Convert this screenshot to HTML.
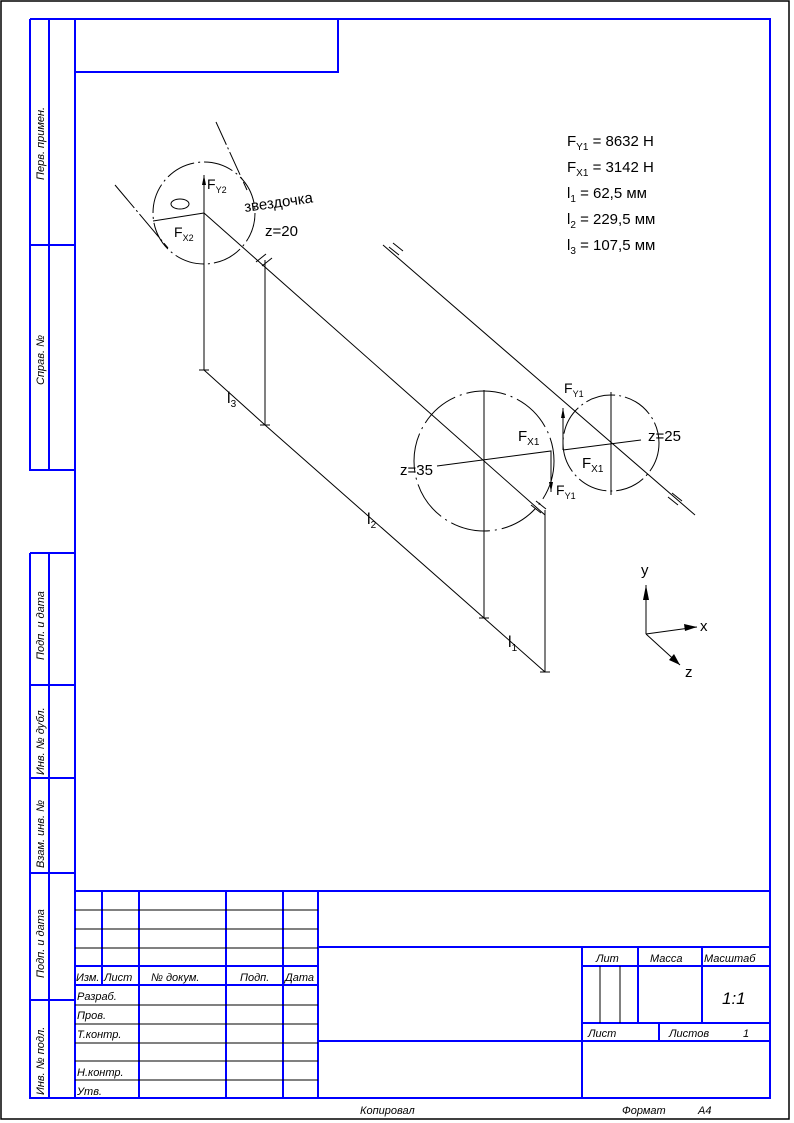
<!DOCTYPE html>
<html><head><meta charset="utf-8"><style>
html,body{margin:0;padding:0;background:#fff}
svg{display:block}
text{font-family:"Liberation Sans","DejaVu Sans",sans-serif}
.it{font-style:italic;font-size:11px}
</style></head><body>
<svg width="794" height="1123" viewBox="0 0 794 1123" xmlns="http://www.w3.org/2000/svg">
<rect x="1" y="1" width="788" height="1118" fill="none" stroke="#000" stroke-width="1.5"/>
<g stroke="#0000ff" stroke-width="2" fill="none">
<rect x="75" y="19" width="695" height="1079"/>
<rect x="75" y="19" width="263" height="53"/>
<path d="M30 19V470H75M49 19V470M30 245H75M30 19H75"/>
<path d="M30 553V1098H75M49 553V1098M30 553H75M30 685H75M30 778H75M30 873H75M30 1000H75"/>
<path d="M75 891H770M318 947H770M318 1041H582M582 947V1098M582 966H770M638 947V1023M702 947V1023M582 1023H770M582 1041H770M659 1023V1041"/>
<path d="M102 891V985M139 891V1098M226 891V1098M283 891V1098M318 891V1098"/>
<path d="M75 966H318M75 985H318"/>
</g>
<g stroke="#000" stroke-width="1">
<path d="M75 910H318M75 929H318M75 948H318M75 1005H318M75 1024H318M75 1043H318M75 1061H318M75 1080H318"/>
<path d="M600 966V1023M620 966V1023"/>
</g>
<g fill="#000">
<g class="it" font-size="11">
<text transform="translate(44,180) rotate(-90)">Перв. примен.</text>
<text transform="translate(44,385) rotate(-90)">Справ. №</text>
<text transform="translate(44,660) rotate(-90)">Подп. и дата</text>
<text transform="translate(44,775) rotate(-90)">Инв. № дубл.</text>
<text transform="translate(44,868) rotate(-90)">Взам. инв. №</text>
<text transform="translate(44,978) rotate(-90)">Подп. и дата</text>
<text transform="translate(44,1095) rotate(-90)">Инв. № подл.</text>
</g>
<g class="it">
<text x="76" y="981">Изм.</text><text x="104" y="981">Лист</text><text x="151" y="981">№ докум.</text>
<text x="240" y="981">Подп.</text><text x="285" y="981">Дата</text>
<text x="77" y="1000">Разраб.</text><text x="77" y="1019">Пров.</text><text x="77" y="1038">Т.контр.</text>
<text x="77" y="1076">Н.контр.</text><text x="77" y="1095">Утв.</text>
<text x="596" y="962">Лит</text><text x="650" y="962">Масса</text><text x="704" y="962">Масштаб</text>
<text x="588" y="1037">Лист</text><text x="669" y="1037">Листов</text><text x="743" y="1037">1</text>
<text x="360" y="1114">Копировал</text><text x="622" y="1114">Формат</text><text x="698" y="1114">А4</text>
</g>
<text x="722" y="1004" font-size="17" font-style="italic">1:1</text>
</g>
<g stroke="#000" stroke-width="1" fill="none">
<circle cx="204" cy="213" r="51" stroke-dasharray="30 4 2 4"/>
<circle cx="484" cy="461" r="70" stroke-dasharray="40 5 2 5"/>
<circle cx="611" cy="443" r="48" stroke-dasharray="30 4 2 4"/>
<path d="M204 213L545 515"/>
<path d="M383 245L695 515"/>
<path d="M393 243L403 251M389 247L399 255M668 497L678 505M672 493L682 501"/>
<path d="M531 505L541 513M536 501L546 509"/>
<path d="M115 185L168 248" stroke-dasharray="30 3 2 3"/>
<path d="M216 122L247 190" stroke-dasharray="25 3 2 3"/>
<path d="M204 175V370M265 260V425M484 390V618M545 510V672"/>
<path d="M262 266L272 258M256 262L266 254"/>
<path d="M204 370L265 425M265 425L484 618M484 618L545 672"/>
<path d="M199 370H209M260 425H270M479 618H489M540 672H550"/>
<path d="M153 221L204 213"/>
<path d="M437 466L551 451V492"/>
<path d="M563 450L641 440M563 450V408M611 392V495"/>
<path d="M646 634V585M646 634L697 627M646 634L680 665"/>
</g>
<g fill="#000">
<path d="M643 600L646 585L649 600Z"/><path d="M684 624L697 627L685 631Z"/><path d="M669 660L680 665L674 654Z"/>
<path d="M549 482L551 492L553 482Z"/><path d="M561 418L563 408L565 418Z"/>
<path d="M202 185L204 175L206 185Z"/>
</g>
<g fill="#000" font-size="15">
<text x="567" y="146">F<tspan font-size="10" dy="4">Y1</tspan><tspan dy="-4"> = 8632 H</tspan></text>
<text x="567" y="172">F<tspan font-size="10" dy="4">X1</tspan><tspan dy="-4"> = 3142 H</tspan></text>
<text x="567" y="198">l<tspan font-size="10" dy="4">1</tspan><tspan dy="-4"> = 62,5 мм</tspan></text>
<text x="567" y="224">l<tspan font-size="10" dy="4">2</tspan><tspan dy="-4"> = 229,5 мм</tspan></text>
<text x="567" y="250">l<tspan font-size="10" dy="4">3</tspan><tspan dy="-4"> = 107,5 мм</tspan></text>
<text x="207" y="189" font-size="14">F<tspan font-size="9" dy="4">Y2</tspan></text>
<text x="174" y="237" font-size="14">F<tspan font-size="9" dy="4">X2</tspan></text>
<text x="245" y="212" font-size="15" transform="rotate(-8 245 212)">звездочка</text>
<text x="265" y="236" font-size="15">z=20</text>
<text x="400" y="475" font-size="15">z=35</text>
<text x="648" y="441" font-size="15">z=25</text>
<text x="518" y="441" font-size="15">F<tspan font-size="10" dy="4">X1</tspan></text>
<text x="582" y="468" font-size="15">F<tspan font-size="10" dy="4">X1</tspan></text>
<text x="564" y="393" font-size="14">F<tspan font-size="9" dy="4">Y1</tspan></text>
<text x="556" y="495" font-size="14">F<tspan font-size="9" dy="4">Y1</tspan></text>
<text x="227" y="403" font-size="16">l<tspan font-size="10" dy="4">3</tspan></text>
<text x="367" y="524" font-size="16">l<tspan font-size="10" dy="4">2</tspan></text>
<text x="508" y="647" font-size="16">l<tspan font-size="10" dy="4">1</tspan></text>
<text x="641" y="575" font-size="15">y</text>
<text x="700" y="631" font-size="15">x</text>
<text x="685" y="677" font-size="15">z</text>
</g>
<ellipse cx="180" cy="204" rx="9" ry="5" fill="none" stroke="#000"/>
</svg>
</body></html>
